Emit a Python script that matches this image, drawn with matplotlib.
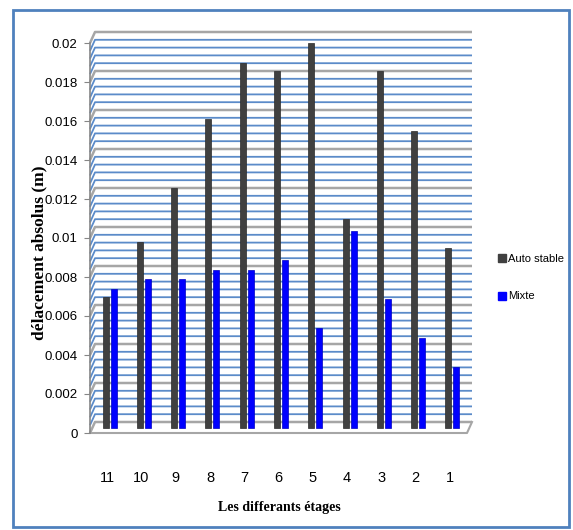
import matplotlib
matplotlib.use("Agg")
import matplotlib.pyplot as plt
import numpy as np
from matplotlib.lines import Line2D
from matplotlib.patches import Rectangle
from matplotlib.transforms import ScaledTranslation

# values (m)
etages = ["11", "10", "9", "8", "7", "6", "5", "4", "3", "2", "1"]
auto_stable = [0.0067, 0.0095, 0.0123, 0.0158, 0.0187, 0.0183, 0.0197, 0.0107, 0.0183, 0.0152, 0.0092]
mixte = [0.0071, 0.0076, 0.0076, 0.0081, 0.0081, 0.0086, 0.0051, 0.0101, 0.0066, 0.0046, 0.0031]
yticks = [0, 0.002, 0.004, 0.006, 0.008, 0.01, 0.012, 0.014, 0.016, 0.018, 0.02]
ytick_labels = ["0", "0.002", "0.004", "0.006", "0.008", "0.01", "0.012", "0.014", "0.016", "0.018", "0.02"]

sans = "Liberation Sans"
serif = "Liberation Serif"

W, H, DPI = 573, 530, 100
fig = plt.figure(figsize=(W / DPI, H / DPI), dpi=DPI)
# axes box: y=0 at 433 px, y=0.02 at 43 px, x from 90 to 467 px
ax = fig.add_axes([90 / W, (H - 433) / H, 377 / W, 390 / H])
ax.set_xlim(-0.5, len(etages) - 0.5)
ax.set_ylim(0, 0.02)

# pseudo 3D back wall: offset of the wall in data units (5 px right, 11 px up)
px_x = len(etages) / 377
px_y = 0.02 / 390
dx, dy = 5 * px_x, 11 * px_y
x0, x1 = -0.5, len(etages) - 0.5

minor = np.linspace(0, 0.02, 51)
for i, v in enumerate(minor):
    if i % 5 == 0:
        col, lw = "#a6a6a6", 1.8
    else:
        col, lw = "#5b8bc9", 1.3
    ax.plot([x0, x0 + dx, x1 + dx], [v, v + dy, v + dy], color=col, lw=lw,
            clip_on=False, zorder=1, solid_capstyle="butt")

# floor front edge
ax.plot([x0, x1, x1 + dx], [0, 0, dy], color="#a6a6a6", lw=1.5, clip_on=False, zorder=1)

# bars sit halfway in the depth
shift = ScaledTranslation(2.5 / DPI, 5.5 / DPI, fig.dpi_scale_trans)
x = np.arange(len(etages))
bw = 0.175
b1 = ax.bar(x - 0.117, auto_stable, bw, color="#404040", edgecolor="#2a2a2a", lw=0.5, zorder=3)
b2 = ax.bar(x + 0.117, mixte, bw, color="#0000ff", edgecolor="#0000c0", lw=0.5, zorder=3)
for p in list(b1) + list(b2):
    p.set_transform(ax.transData + shift)
    p.set_clip_on(False)

for s in ["top", "right", "bottom"]:
    ax.spines[s].set_visible(False)
ax.spines["left"].set_color("#868686")
ax.spines["left"].set_linewidth(1.2)

ax.set_yticks(yticks)
ax.set_yticklabels(ytick_labels, fontfamily=sans, fontsize=9.5)
ax.tick_params(axis="y", direction="out", length=4, color="#868686", pad=5)
ax.set_xticks(x)
ax.set_xticklabels(etages, fontfamily=sans, fontsize=10.5)
ax.tick_params(axis="x", length=0, pad=27)

ax.set_ylabel("délacement absolus (m)", fontfamily=serif,
              fontweight="bold", fontsize=12.5, va="center")
ax.yaxis.set_label_coords(-0.135, 0.462)
ax.set_xlabel("Les differants étages", fontfamily=serif,
              fontweight="bold", fontsize=10, va="center")
ax.xaxis.set_label_coords(0.501, -0.192)

handles = [
    Line2D([], [], marker="s", ls="", color="#404040", markersize=5.5, label="Auto stable"),
    Line2D([], [], marker="s", ls="", color="#0000ff", markersize=5.5, label="Mixte"),
]
fig.legend(handles=handles, loc="center left", bbox_to_anchor=(498.5 / W, 1 - 277.5 / H),
           frameon=False, borderpad=0, borderaxespad=0, handlelength=0.6,
           handletextpad=0.3, labelspacing=2.5, prop={"family": sans, "size": 8})

# outer chart border
fig.patches.append(Rectangle((13 / W, 3 / H), 556 / W, 517 / H, transform=fig.transFigure,
                             fill=False, edgecolor="#4f81bd", lw=2))

fig.savefig("out.png", dpi=DPI)
